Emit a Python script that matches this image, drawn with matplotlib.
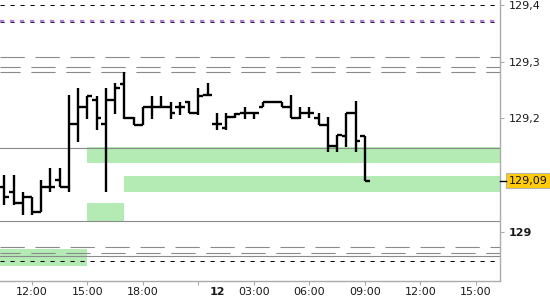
import matplotlib.pyplot as plt
import numpy as np

plt.rcParams['lines.scale_dashes'] = False
plt.rcParams['font.family'] = ['DejaVu Sans']

# 30 min bars: day 11 10:30 .. 21:30, then day 12 01:00 .. 09:00
opens = [129.079, 129.070, 129.051, 129.061, 129.035, 129.079, 129.091, 129.079,
         129.190, 129.220, 129.232, 129.190, 129.232, 129.261, 129.201, 129.188,
         129.220, 129.220, 129.220, 129.220, 129.229, 129.210, 129.241,
         129.190, 129.183, 129.202, 129.210, 129.210, 129.220, 129.229, 129.229,
         129.220, 129.201, 129.210, 129.201, 129.188, 129.151, 129.169, 129.210,
         129.169]
highs = [129.100, 129.100, 129.070, 129.061, 129.091, 129.113, 129.113, 129.241,
         129.254, 129.240, 129.240, 129.254, 129.262, 129.282, 129.202, 129.220,
         129.240, 129.240, 129.229, 129.229, 129.230, 129.254, 129.262,
         129.210, 129.210, 129.210, 129.220, 129.212, 129.229, 129.230, 129.229,
         129.241, 129.220, 129.220, 129.210, 129.202, 129.171, 129.210, 129.231,
         129.169]
lows = [129.047, 129.047, 129.030, 129.030, 129.035, 129.070, 129.079, 129.070,
        129.158, 129.199, 129.180, 129.070, 129.208, 129.199, 129.188, 129.188,
        129.199, 129.220, 129.199, 129.206, 129.210, 129.206, 129.241,
        129.180, 129.180, 129.200, 129.199, 129.199, 129.220, 129.228, 129.220,
        129.200, 129.199, 129.201, 129.188, 129.141, 129.141, 129.150, 129.141,
        129.089]
closes = [129.061, 129.051, 129.061, 129.035, 129.079, 129.079, 129.079, 129.190,
          129.220, 129.240, 129.201, 129.232, 129.254, 129.201, 129.188, 129.220,
          129.220, 129.220, 129.210, 129.220, 129.210, 129.240, 129.241,
          129.190, 129.202, 129.208, 129.210, 129.210, 129.229, 129.229, 129.220,
          129.201, 129.210, 129.210, 129.188, 129.151, 129.171, 129.210, 129.160,
          129.090]

last_price = 129.09

# levels
black_dashed = [129.400, 128.9483]
purple_level = 129.3723
purple_under = 129.3695
gray_dashed = [129.3077, 129.2901, 129.2818, 128.9725, 128.9624]
gray_solid = [129.1482, 129.0189, 128.9577]

# zones: (start slot, end slot, low, high); None = axis edge
zones = [(9, None, 129.1218, 129.1486),
         (13, None, 129.0706, 129.0983),
         (9, 13, 129.0189, 129.0512),
         (None, 9, 128.9400, 128.9695)]

tick_slots = [3, 9, 15, 21, 27, 33, 39, 45, 51]
tick_labels = ['12:00', '15:00', '18:00', '', '03:00', '06:00', '09:00', '12:00', '15:00']
day_slot = 23
day_label = '12'

yticks = [129.0, 129.2, 129.3, 129.4]
ytick_labels = ['129', '129,2', '129,3', '129,4']

xmin, xmax = -0.46, 53.6
ymin, ymax = 128.913, 129.4088

fig = plt.figure(figsize=(5.5, 3), dpi=100)
ax = fig.add_axes([0, 1 - 281 / 300, 500 / 550, 281 / 300])
ax.set_xlim(xmin, xmax)
ax.set_ylim(ymin, ymax)

green = '#b4ebb4'
for x0, x1, lo, hi in zones:
    x0 = xmin if x0 is None else x0
    x1 = xmax if x1 is None else x1
    ax.fill_between([x0, x1], lo, hi, color=green, lw=0, zorder=1)

grey = '#8a8a8a'
for lv in gray_solid:
    ax.axhline(lv, color=grey, lw=0.8, zorder=2)
for i, lv in enumerate(gray_dashed):
    off = 0 if i in (0, 3) else 3
    ax.axhline(lv, color=grey, lw=0.8, ls=(off, (17.5, 7.7)), zorder=2)
for lv in black_dashed:
    ax.axhline(lv, color='black', lw=0.75, ls=(0, (3.0, 4.2)), zorder=2)
ax.axhline(purple_under, color='#2a1a3a', lw=0.75, ls=(0, (3.0, 4.2)), zorder=2)
ax.axhline(purple_level, color='#b67fdc', lw=1.6, ls=(0, (3.0, 4.2)), zorder=2)

# OHLC bars
slots = np.arange(len(opens))
ax.vlines(slots, lows, highs, color='black', lw=1.7, zorder=3)
ax.hlines(opens, slots - 0.5, slots, color='black', lw=1.7, zorder=3)
ax.hlines(closes, slots, slots + 0.5, color='black', lw=1.7, zorder=3)

# axes styling
for s in ['left', 'top']:
    ax.spines[s].set_visible(False)
for s in ['right', 'bottom']:
    ax.spines[s].set_color('#ababab')
    ax.spines[s].set_linewidth(1.0)

ax.yaxis.tick_right()
ax.set_yticks(yticks)
ax.set_yticklabels(ytick_labels)
ax.tick_params(axis='y', colors='#ababab', labelcolor='#1a1a1a', length=3, width=0.8,
               pad=3.5, labelsize=8)
for lab in ax.get_yticklabels():
    if lab.get_text() == '129':
        lab.set_fontweight('bold')

ax.set_xticks(tick_slots)
ax.set_xticklabels(tick_labels)
ax.set_xticks([day_slot], minor=True)
ax.set_xticklabels([day_label], minor=True, fontweight='bold')
ax.tick_params(axis='x', which='major', colors='#ababab', labelcolor='#1a1a1a', length=3,
               width=0.8, pad=1, labelsize=8)
ax.tick_params(axis='x', which='minor', length=0, labelcolor='#1a1a1a', pad=4, labelsize=8)

# current price marker
ax.plot([1.0, 1.012], [last_price, last_price], color='black', lw=1.0,
        transform=ax.get_yaxis_transform(), clip_on=False, zorder=5)
ax.text(1.018, last_price, f'{last_price:.2f}'.replace('.', ','), transform=ax.get_yaxis_transform(),
        va='center', ha='left', fontsize=8, color='#111111',
        bbox=dict(boxstyle='square,pad=0.25', fc='#ffcb0a', ec='#b5b5b5', lw=0.8))

fig.savefig('out.png', dpi=100)
